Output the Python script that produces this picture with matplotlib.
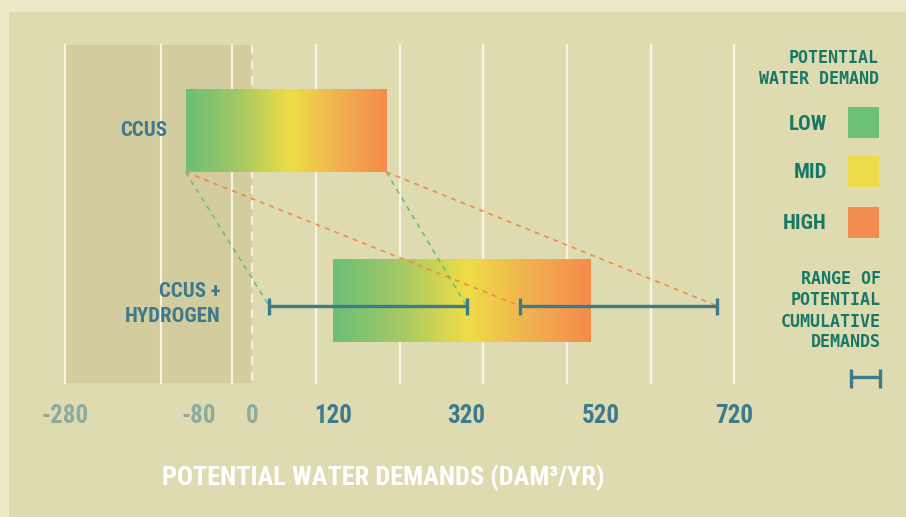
import numpy as np
import matplotlib
matplotlib.use("Agg")
import matplotlib.pyplot as plt
from matplotlib import font_manager as fm
from matplotlib.colors import LinearSegmentedColormap
from matplotlib.patches import Rectangle

# ---------------- data ----------------
categories = ["CCUS", "CCUS +\nHYDROGEN"]
bar_low = [-100, 120]
bar_high = [200, 505]
range_low_lo, range_low_hi = 25, 320      # cumulative range using low demands
range_high_lo, range_high_hi = 400, 695   # cumulative range using high demands
tick_values = [-280, -80, 0, 120, 320, 520, 720]
grid_values = [-280, -137, -30, 95, 220, 345, 470, 595, 720]
legend_levels = ["LOW", "MID", "HIGH"]
legend_colors = ["#6cc077", "#eedb4a", "#f48c4f"]

# ---------------- fonts ----------------
def pick_condensed():
    entries = fm.fontManager.ttflist
    names = {f.name for f in entries}
    for cand in ["Liberation Sans Narrow", "Roboto Condensed", "Open Sans Condensed",
                 "Noto Sans Condensed", "DejaVu Sans Condensed", "Arial Narrow"]:
        if cand in names:
            return dict(family=[cand, "DejaVu Sans"])
    for fam in ["Roboto", "Noto Sans", "Open Sans", "DejaVu Sans", "Inter", "Lato"]:
        for f in entries:
            if f.name == fam and str(f.stretch) in ("condensed", "semi-condensed",
                                                    "extra-condensed", "75", "87.5"):
                return dict(family=[fam, "DejaVu Sans"], fontstretch=f.stretch)
    return dict(family=["Roboto", "DejaVu Sans"])

COND = pick_condensed()
MONO = dict(family=["DejaVu Sans Mono"])

# ---------------- style ----------------
W, H = 906, 517
X0PX, SCALE = 252.5, 0.669          # pixel of value 0, pixels per unit
ROW0PX, PITCH = 130.5, 170.5        # pixel center of first row, row pitch
BG_OUT = "#ede9c6"
BG = "#dfdbb1"
SHADE = "#d3cc9e"
TEAL = "#3d7a8c"
LEG = "#187868"
NEG = "#8eab9f"

cmap = LinearSegmentedColormap.from_list(
    "demand", [(0, "#6bbf77"), (0.27, "#a6c964"), (0.52, "#efdd46"),
               (0.76, "#f1b150"), (1, "#f58b4c")])

fig = plt.figure(figsize=(W / 100, H / 100), dpi=100, facecolor=BG_OUT)
fig.patches.append(Rectangle((9 / W, 0), 1, (H - 12) / H, transform=fig.transFigure,
                             facecolor=BG, edgecolor="none", zorder=-5))
ax = fig.add_axes([0, 0, 1, 1], zorder=1)
ax.set_facecolor("none")
XLIM = ((0 - X0PX) / SCALE, (W - X0PX) / SCALE)
YLIM = ((H - ROW0PX) / PITCH, (0 - ROW0PX) / PITCH)
ax.axis("off")

def ypx(p):
    return (p - ROW0PX) / PITCH

top, bot = ypx(45), ypx(383)

# shaded negative region and gridlines
ax.add_patch(Rectangle((tick_values[0], top), 0 - tick_values[0], bot - top,
                       facecolor=SHADE, edgecolor="none", zorder=1))
for g in grid_values:
    ax.plot([g, g], [top, bot], color="#f7f4e6", lw=1.6, zorder=2)
ax.plot([0, 0], [top, bot], color="#f4f1df", lw=1.6, ls=(0, (4, 3)), zorder=2)

# gradient bars
bh = 83 / PITCH
grad = np.linspace(0, 1, 512).reshape(1, -1)
for i, (lo, hi) in enumerate(zip(bar_low, bar_high)):
    ax.imshow(grad, cmap=cmap, aspect="auto", interpolation="bilinear",
              extent=(lo, hi, i + bh / 2, i - bh / 2), zorder=3)

# dashed connectors
ey = 1 + 5 / PITCH
y_from = 0 + bh / 2
for x0, x1, c in [(bar_low[0], range_low_lo, "#6cbf76"),
                  (bar_high[0], range_low_hi, "#6cbf76"),
                  (bar_low[0], range_high_lo, "#f28a4c"),
                  (bar_high[0], range_high_hi, "#f28a4c")]:
    ax.plot([x0, x1], [y_from, ey], color=c, lw=1.2, ls=(0, (3, 3)), zorder=4)

# range bars
cap = 8.5 / PITCH
for lo, hi in [(range_low_lo, range_low_hi), (range_high_lo, range_high_hi)]:
    ax.plot([lo, hi], [ey, ey], color=TEAL, lw=2.4, zorder=5, solid_capstyle="butt")
    for x in (lo, hi):
        ax.plot([x, x], [ey - cap, ey + cap], color=TEAL, lw=2.4, zorder=5,
                solid_capstyle="butt")

ax.set_xlim(*XLIM)
ax.set_ylim(*YLIM)

# category labels
ax.text(bar_low[0] - 28, 0, categories[0], ha="right", va="center", color=TEAL,
        fontsize=15, fontweight="bold", zorder=6, **COND)
ax.text(-48, ypx(304), categories[1], ha="right", va="center", color=TEAL,
        fontsize=15, fontweight="bold", linespacing=1.4, zorder=6, **COND)

# tick labels
for v in tick_values:
    ax.text(v, ypx(416), str(v), ha="center", va="center",
            color=NEG if v <= 0 else TEAL, fontsize=18, fontweight="bold", **COND)

# axis title
fig.text(383 / W, 1 - 478 / H, "POTENTIAL WATER DEMANDS (DAM³/YR)", ha="center",
         va="center", color="white", fontsize=19, fontweight="bold", **COND)

# legend
def fx(p):
    return p / W

def fy(p):
    return 1 - p / H

fig.text(fx(879), fy(58), "POTENTIAL", ha="right", va="center", color=LEG,
         fontsize=12, fontweight="bold", **MONO)
fig.text(fx(879), fy(79), "WATER DEMAND", ha="right", va="center", color=LEG,
         fontsize=12, fontweight="bold", **MONO)
for k, (lab, col) in enumerate(zip(legend_levels, legend_colors)):
    yc = [123, 171, 222][k]
    fig.patches.append(Rectangle((fx(848), fy(yc + 15.5)), 31 / W, 31 / H,
                                 transform=fig.transFigure, facecolor=col,
                                 edgecolor="none"))
    fig.text(fx(827), fy(yc + 1.5), lab, ha="right", va="center", color=LEG,
             fontsize=15, fontweight="bold", **COND)
for k, line in enumerate(["RANGE OF", "POTENTIAL", "CUMULATIVE", "DEMANDS"]):
    fig.text(fx(881), fy([279, 300, 322, 342][k]), line, ha="right", va="center",
             color=LEG, fontsize=12, fontweight="bold", **MONO)
ly = fy(377)
fig.add_artist(plt.Line2D([fx(851), fx(880)], [ly, ly], transform=fig.transFigure,
                          color=TEAL, lw=2.4, solid_capstyle="butt"))
for x in (851, 880):
    fig.add_artist(plt.Line2D([fx(x), fx(x)], [fy(369), fy(388)],
                              transform=fig.transFigure, color=TEAL, lw=2.4,
                              solid_capstyle="butt"))

fig.savefig("out.png", dpi=100, facecolor=BG_OUT)
